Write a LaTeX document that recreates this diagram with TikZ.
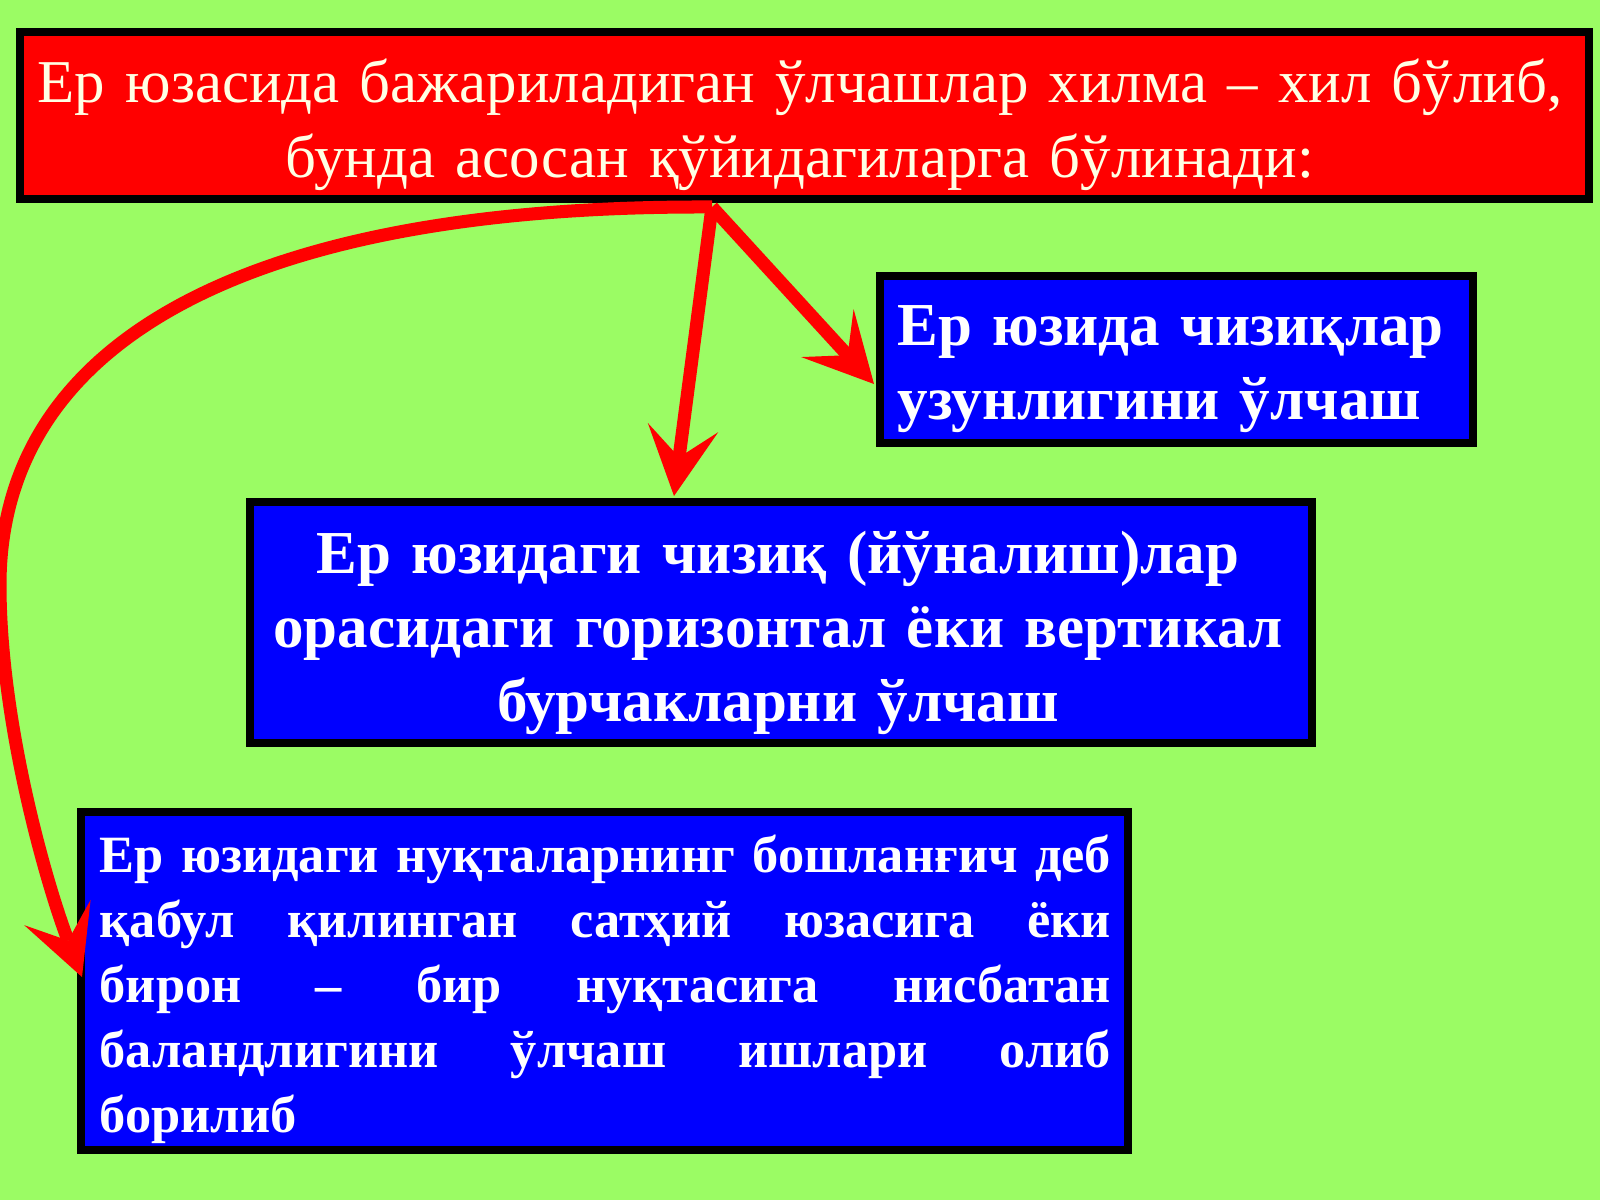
\documentclass[tikz,border=0pt]{standalone}
\usepackage{fontspec}
\setmainfont{Liberation Serif}
\usetikzlibrary{arrows.meta}
\definecolor{bggreen}{RGB}{155,252,100}
\definecolor{boxred}{RGB}{255,0,0}
\definecolor{boxblue}{RGB}{0,0,255}
\definecolor{cream}{RGB}{255,255,228}
\definecolor{arrred}{RGB}{255,0,0}
\newcommand{\jline}[1]{\leavevmode\hbox to 10.11cm{#1}}
\tikzset{
  panel/.style={draw=black, line width=0.08cm, inner sep=0pt, rectangle},
  redpanel/.style={panel, fill=boxred},
  bluepanel/.style={panel, fill=boxblue},
  toptext/.style={inner sep=0pt, text=cream, align=center, anchor=base,
    font=\fontsize{17.3}{21.34}\selectfont},
  bluetext/.style={inner sep=0pt, text=white,
    font=\fontsize{17.35}{21.06}\selectfont\bfseries},
  smalltext/.style={inner sep=0pt, text=white, align=left, anchor=base west,
    font=\fontsize{14.9}{18.5}\selectfont\bfseries},
  arr/.style={draw=arrred, line width=0.13cm,
    -{Stealth[length=0.69cm, width=0.71cm, inset=0.3cm, line width=0pt]}},
}
\begin{document}
\begin{tikzpicture}[x=0.01cm, y=-0.01cm]
\fill[bggreen] (0,0) rectangle (1600,1200);
\useasboundingbox (0,0) rectangle (1600,1200);

% boxes
\node[redpanel, minimum width=15.69cm, minimum height=1.67cm] (b0) at (804.5,115.5) {};
\node[bluepanel, minimum width=5.93cm, minimum height=1.67cm] (b1) at (1176.5,359.5) {};
\node[bluepanel, minimum width=10.62cm, minimum height=2.41cm] (b2) at (781,622.5) {};
\node[bluepanel, minimum width=10.47cm, minimum height=3.38cm] (b3) at (604.5,981) {};

% texts
\node[toptext, text width=15.6cm] (t0) at (800,102)
  {Ер юзасида бажариладиган ўлчашлар хилма – хил бўлиб,\\ бунда асосан қўйидагиларга бўлинади:};
\node[bluetext, align=left, anchor=base west, text width=5.8cm] (t1) at (897,345)
  {Ер юзида чизиқлар\\ узунлигини ўлчаш};
\node[bluetext, align=center, anchor=base, text width=10.5cm] (t2) at (778,573)
  {Ер юзидаги чизиқ (йўналиш)лар\\ орасидаги горизонтал ёки вертикал\\ бурчакларни ўлчаш};
\node[smalltext, text width=10.11cm] (t3) at (99,872)
  {\jline{Ер\hfill юзидаги\hfill нуқталарнинг\hfill бошланғич\hfill деб}\\
   \jline{қабул\hfill қилинган\hfill сатҳий\hfill юзасига\hfill ёки}\\
   \jline{бирон\hfill –\hfill бир\hfill нуқтасига\hfill нисбатан}\\
   \jline{баландлигини\hfill ўлчаш\hfill ишлари\hfill олиб}\\
   борилиб};

% connectors
\coordinate (src) at (712,207);
\coordinate (tip1) at (874,384);
\coordinate (tip2) at (674,496);
\coordinate (tip3) at (82,977);
\draw[arr] (src) -- (tip1);
\draw[arr] (src) -- (tip2);
\draw[arr] (src) .. controls (250,205) and (0,340) .. (0,585)
  .. controls (0,720) and (45,880) .. (tip3);
\end{tikzpicture}
\end{document}
